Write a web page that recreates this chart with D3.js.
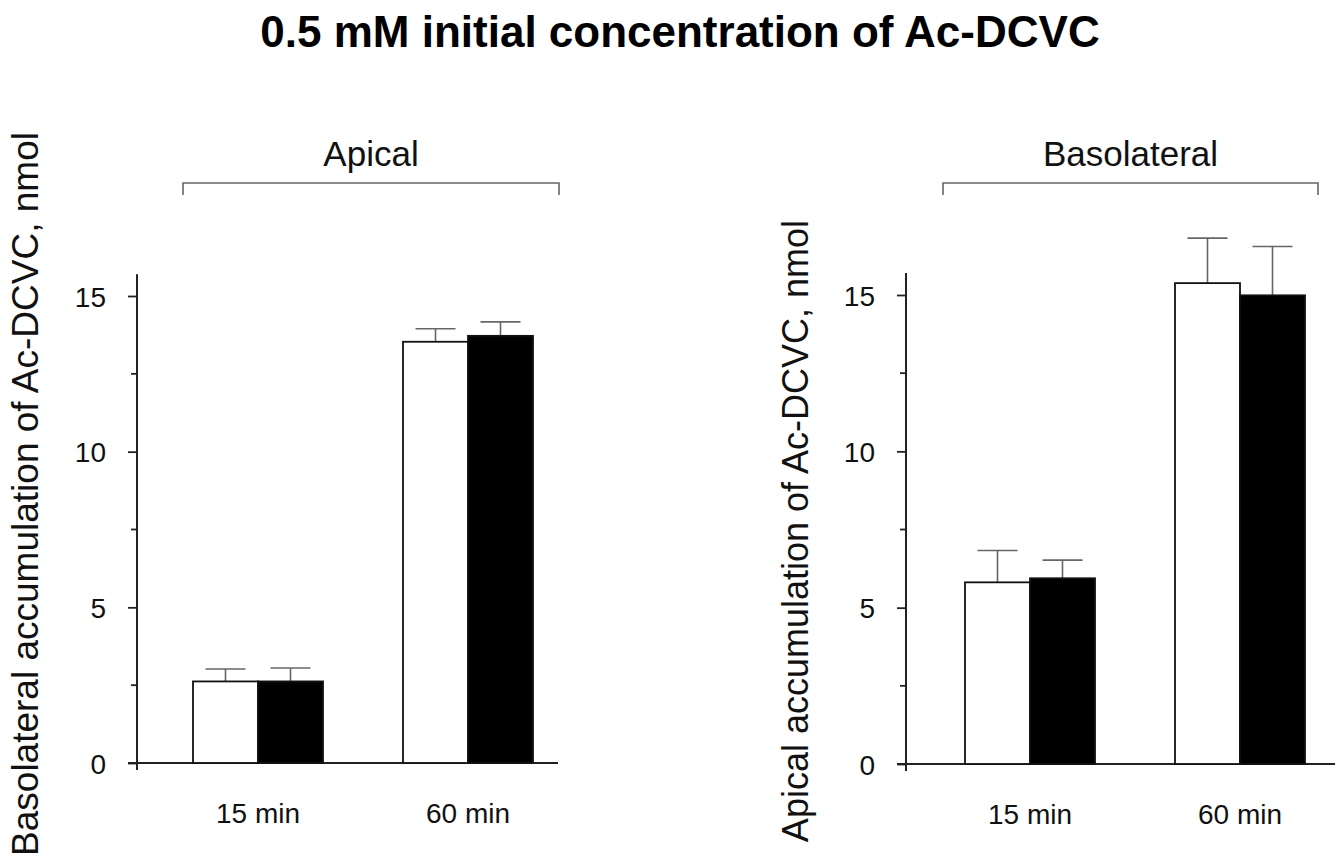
<!DOCTYPE html>
<html>
<head>
<meta charset="utf-8">
<script src="https://cdn.jsdelivr.net/npm/d3@7"></script>
<style>
body{margin:0;background:#fff;}
svg{font-family:"Liberation Sans",Arial,sans-serif;}
</style>
</head>
<body>
<div id="chart"></div>
<script>
/*Ac-DCVC accumulation bars*/

var categories = ["15 min","60 min"];
var series = ["open","filled"];
var yTicks = [0,5,10,15];
var yMinor = [2.5,7.5,12.5];

// Apical panel
var apicalOpen = [2.62,13.53];
var apicalOpenSd = [0.40,0.42];
var apicalFilled = [2.62,13.72];
var apicalFilledSd = [0.43,0.45];

// Basolateral panel
var basoOpen = [5.81,15.38];
var basoOpenSd = [1.02,1.44];
var basoFilled = [5.94,14.99];
var basoFilledSd = [0.58,1.56];

var W = 1342, H = 862;

var svg = d3.select("#chart")
.append("svg")
.attr("width",W)
.attr("height",H);

svg.append("text")
.attr("x",680)
.attr("y",47)
.attr("text-anchor","middle")
.style("font-size","44px")
.style("font-weight","bold")
.attr("fill","#000")
.text("0.5 mM initial concentration of Ac-DCVC");

var panels = [
  {title:"Apical",ylab:"Basolateral accumulation of Ac-DCVC, nmol",
   axisX:137,y0:763,y15:296,xr:[158,568],xEnd:558,brk:[183,559],labX:38,labY:494,labSize:37,
   open:apicalOpen,openSd:apicalOpenSd,filled:apicalFilled,filledSd:apicalFilledSd},
  {title:"Basolateral",ylab:"Apical accumulation of Ac-DCVC, nmol",
   axisX:906,y0:764,y15:295,xr:[930,1340],xEnd:1335,brk:[943,1318],labX:808,labY:531,labSize:36,
   open:basoOpen,openSd:basoOpenSd,filled:basoFilled,filledSd:basoFilledSd}
];

panels.forEach(function(p){
  var g = svg.append("g");

  var yScale = d3.scaleLinear().domain([0,15]).range([p.y0,p.y15]);
  var xScale = d3.scaleBand().domain(categories).range(p.xr)
  .paddingInner(80/210).paddingOuter(35/210);
  var xSub = d3.scaleBand().domain(series).range([0,xScale.bandwidth()]);

  // bracket + group title
  g.append("path")
  .attr("d","M"+p.brk[0]+",195V183H"+p.brk[1]+"V195")
  .attr("fill","none")
  .attr("stroke","#666")
  .attr("stroke-width",1.6);
  g.append("text")
  .attr("x",(p.brk[0]+p.brk[1])/2)
  .attr("y",166)
  .attr("text-anchor","middle")
  .style("font-size","35px")
  .attr("fill","#111")
  .text(p.title);

  // y axis
  var yAxis = g.append("g")
  .attr("transform","translate("+p.axisX+",0)")
  .call(d3.axisLeft(yScale).tickValues(yTicks).tickSize(9).tickPadding(22).tickFormat(d3.format("d")));
  yAxis.select(".domain").remove();
  yAxis.selectAll("line").attr("stroke","#222").attr("stroke-width",1.8);
  yAxis.selectAll("text").style("font-size","28px").attr("fill","#111").attr("dy","0.36em");
  yAxis.selectAll(".minor")
  .data(yMinor).enter()
  .append("line")
  .attr("x1",-6).attr("x2",0)
  .attr("y1",function(d){return yScale(d);})
  .attr("y2",function(d){return yScale(d);})
  .attr("stroke","#222").attr("stroke-width",1.8);
  g.append("line")
  .attr("x1",p.axisX).attr("x2",p.axisX)
  .attr("y1",yScale(15.7)).attr("y2",p.y0+7)
  .attr("stroke","#222").attr("stroke-width",2);

  // x axis
  var xAxis = g.append("g")
  .attr("transform","translate(0,"+p.y0+")")
  .call(d3.axisBottom(xScale).tickSize(0).tickPadding(40));
  xAxis.select(".domain").remove();
  xAxis.selectAll("text").style("font-size","28px").attr("fill","#111");
  g.append("line")
  .attr("x1",p.axisX-9).attr("x2",p.xEnd)
  .attr("y1",p.y0).attr("y2",p.y0)
  .attr("stroke","#222").attr("stroke-width",2);

  var rows = [];
  categories.forEach(function(c,i){
    rows.push({cat:c,s:"open",v:p.open[i],sd:p.openSd[i]});
    rows.push({cat:c,s:"filled",v:p.filled[i],sd:p.filledSd[i]});
  });

  // error bars (drawn first so the bar covers the stem)
  var eb = g.selectAll(".err").data(rows).enter().append("g");
  eb.append("line")
  .attr("x1",function(d){return xScale(d.cat)+xSub(d.s)+xSub.bandwidth()/2;})
  .attr("x2",function(d){return xScale(d.cat)+xSub(d.s)+xSub.bandwidth()/2;})
  .attr("y1",function(d){return yScale(d.v);})
  .attr("y2",function(d){return yScale(d.v+d.sd);})
  .attr("stroke","#666").attr("stroke-width",1.6);
  eb.append("line")
  .attr("x1",function(d){return xScale(d.cat)+xSub(d.s)+xSub.bandwidth()/2-20;})
  .attr("x2",function(d){return xScale(d.cat)+xSub(d.s)+xSub.bandwidth()/2+20;})
  .attr("y1",function(d){return yScale(d.v+d.sd);})
  .attr("y2",function(d){return yScale(d.v+d.sd);})
  .attr("stroke","#666").attr("stroke-width",1.6);

  g.selectAll(".bar")
  .data(rows).enter()
  .append("rect")
  .attr("x",function(d){return xScale(d.cat)+xSub(d.s);})
  .attr("width",xSub.bandwidth())
  .attr("y",function(d){return yScale(d.v);})
  .attr("height",function(d){return p.y0-yScale(d.v);})
  .attr("fill",function(d){return d.s=="open"?"#fff":"#000";})
  .attr("stroke","#111")
  .attr("stroke-width",1.8);

  // y label
  g.append("text")
  .attr("transform","translate("+p.labX+","+p.labY+")rotate(-90)")
  .attr("text-anchor","middle")
  .style("font-size",p.labSize+"px")
  .attr("fill","#111")
  .text(p.ylab);
});
</script>
</body>
</html>
